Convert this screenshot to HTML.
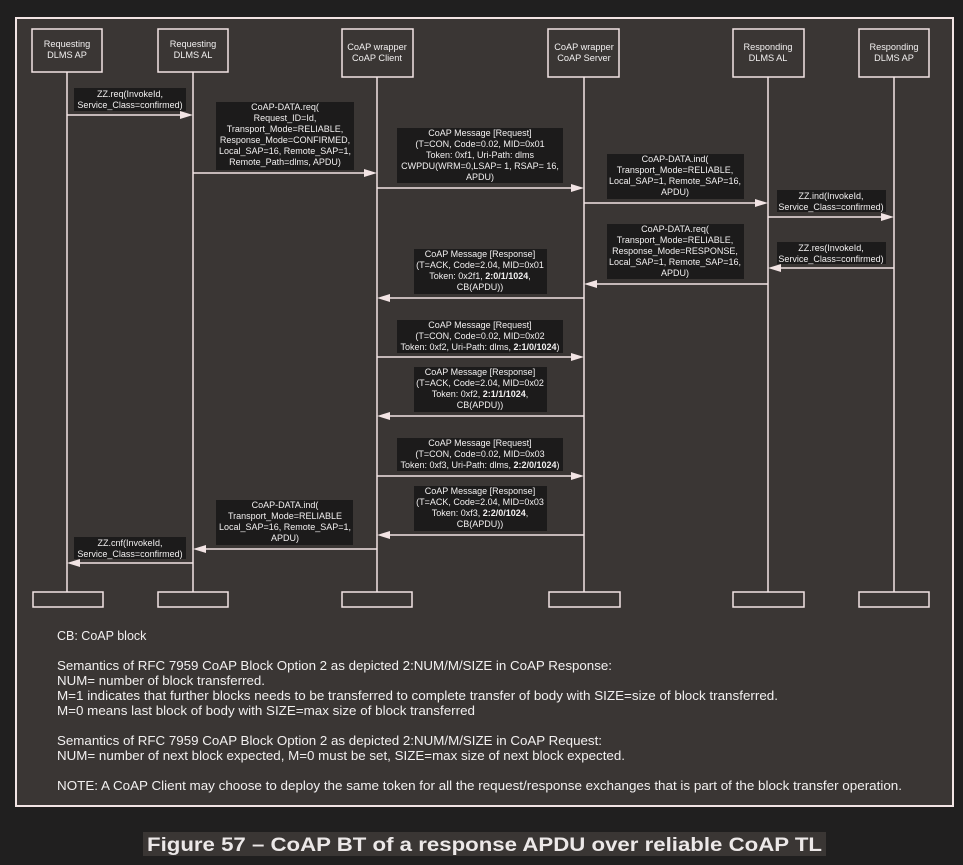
<!DOCTYPE html>
<html><head><meta charset="utf-8"><style>
html,body{margin:0;padding:0;background:#201f1f;}
svg{display:block;}
text{font-family:"Liberation Sans",Arial,sans-serif;}
</style></head><body>
<svg width="963" height="865" viewBox="0 0 963 865" xmlns="http://www.w3.org/2000/svg">
<rect width="963" height="865" fill="#201f1f"/>
<rect x="16" y="18" width="937" height="788" fill="#3a3634" stroke="#f2e4e4" stroke-width="2"/>
<g fill="none" stroke="#f2e4e4" stroke-width="1.5">
<rect x="32" y="29" width="70" height="43"/>
<rect x="158" y="29" width="70" height="43"/>
<rect x="342" y="29" width="71" height="48"/>
<rect x="548" y="29" width="71" height="48"/>
<rect x="733" y="29" width="71" height="48"/>
<rect x="859" y="29" width="70" height="48"/>
<line x1="67" y1="72" x2="67" y2="592"/>
<line x1="193" y1="72" x2="193" y2="592"/>
<line x1="377" y1="77" x2="377" y2="592"/>
<line x1="584" y1="77" x2="584" y2="592"/>
<line x1="768" y1="77" x2="768" y2="592"/>
<line x1="894" y1="77" x2="894" y2="592"/>
<rect x="33" y="592" width="70" height="15"/>
<rect x="158" y="592" width="70" height="15"/>
<rect x="342" y="592" width="70" height="15"/>
<rect x="549" y="592" width="71" height="15"/>
<rect x="733" y="592" width="71" height="15"/>
<rect x="859" y="592" width="70" height="15"/>
</g>
<g fill="#f2f0f0" font-size="9.2" text-anchor="middle">
<text x="67" y="47">Requesting</text><text x="67" y="58">DLMS AP</text>
<text x="193" y="47">Requesting</text><text x="193" y="58">DLMS AL</text>
<text x="377" y="50">CoAP wrapper</text><text x="377" y="61">CoAP Client</text>
<text x="584" y="50">CoAP wrapper</text><text x="584" y="61">CoAP Server</text>
<text x="768" y="50">Responding</text><text x="768" y="61">DLMS AL</text>
<text x="894" y="50">Responding</text><text x="894" y="61">DLMS AP</text>
</g>
<g fill="#1c1b1b">
<rect x="74" y="88" width="112" height="23"/>
<rect x="216" y="102" width="138" height="68"/>
<rect x="397" y="128" width="166" height="55"/>
<rect x="607" y="154" width="137" height="45"/>
<rect x="777" y="190" width="109" height="22"/>
<rect x="607" y="224" width="137" height="55"/>
<rect x="777" y="242" width="109" height="22"/>
<rect x="414" y="249" width="133" height="45"/>
<rect x="397" y="320" width="166" height="33"/>
<rect x="414" y="367" width="133" height="45"/>
<rect x="397" y="438" width="166" height="33"/>
<rect x="414" y="486" width="133" height="45"/>
<rect x="216" y="500" width="137" height="45"/>
<rect x="74" y="537" width="112" height="22"/>
</g>
<g stroke="#f2e4e4" stroke-width="1.5">
<line x1="67" y1="115" x2="182" y2="115"/>
<line x1="193" y1="173" x2="366" y2="173"/>
<line x1="377" y1="188" x2="573" y2="188"/>
<line x1="584" y1="203" x2="757" y2="203"/>
<line x1="768" y1="217" x2="883" y2="217"/>
<line x1="779" y1="268" x2="894" y2="268"/>
<line x1="595" y1="284" x2="768" y2="284"/>
<line x1="388" y1="298" x2="584" y2="298"/>
<line x1="377" y1="357" x2="573" y2="357"/>
<line x1="388" y1="416" x2="584" y2="416"/>
<line x1="377" y1="476" x2="573" y2="476"/>
<line x1="388" y1="535" x2="584" y2="535"/>
<line x1="204" y1="549" x2="377" y2="549"/>
<line x1="78" y1="563" x2="193" y2="563"/>
</g>
<g fill="#f2e4e4">
<polygon points="193,115 180,111 180,119"/>
<polygon points="377,173 364,169 364,177"/>
<polygon points="584,188 571,184 571,192"/>
<polygon points="768,203 755,199 755,207"/>
<polygon points="894,217 881,213 881,221"/>
<polygon points="768,268 781,264 781,272"/>
<polygon points="584,284 597,280 597,288"/>
<polygon points="377,298 390,294 390,302"/>
<polygon points="584,357 571,353 571,361"/>
<polygon points="377,416 390,412 390,420"/>
<polygon points="584,476 571,472 571,480"/>
<polygon points="377,535 390,531 390,539"/>
<polygon points="193,549 206,545 206,553"/>
<polygon points="67,563 80,559 80,567"/>
</g>
<g fill="#f2f0f0" font-size="9" text-anchor="middle">
<text x="130" y="97">ZZ.req(InvokeId,</text><text x="130" y="108">Service_Class=confirmed)</text>
<text x="285" y="110">CoAP-DATA.req(</text><text x="285" y="121">Request_ID=Id,</text><text x="285" y="132">Transport_Mode=RELIABLE,</text><text x="285" y="143">Response_Mode=CONFIRMED,</text><text x="285" y="154">Local_SAP=16, Remote_SAP=1,</text><text x="285" y="165">Remote_Path=dlms, APDU)</text>
<text x="480" y="136">CoAP Message [Request]</text><text x="480" y="147">(T=CON, Code=0.02, MID=0x01</text><text x="480" y="158">Token: 0xf1, Uri-Path: dlms</text><text x="480" y="169">CWPDU(WRM=0,LSAP= 1, RSAP= 16,</text><text x="480" y="180">APDU)</text>
<text x="675" y="162">CoAP-DATA.ind(</text><text x="675" y="173">Transport_Mode=RELIABLE,</text><text x="675" y="184">Local_SAP=1, Remote_SAP=16,</text><text x="675" y="195">APDU)</text>
<text x="831" y="199">ZZ.ind(InvokeId,</text><text x="831" y="210">Service_Class=confirmed)</text>
<text x="675" y="232">CoAP-DATA.req(</text><text x="675" y="243">Transport_Mode=RELIABLE,</text><text x="675" y="254">Response_Mode=RESPONSE,</text><text x="675" y="265">Local_SAP=1, Remote_SAP=16,</text><text x="675" y="276">APDU)</text>
<text x="831" y="251">ZZ.res(InvokeId,</text><text x="831" y="262">Service_Class=confirmed)</text>
<text x="480" y="257">CoAP Message [Response]</text><text x="480" y="268">(T=ACK, Code=2.04, MID=0x01</text><text x="480" y="279">Token: 0x2f1,  <tspan font-weight="bold">2:0/1/1024</tspan>,</text><text x="480" y="290">CB(APDU))</text>
<text x="480" y="328">CoAP Message [Request]</text><text x="480" y="339">(T=CON, Code=0.02, MID=0x02</text><text x="480" y="350">Token: 0xf2, Uri-Path: dlms, <tspan font-weight="bold">2:1/0/1024</tspan>)</text>
<text x="480" y="375">CoAP Message [Response]</text><text x="480" y="386">(T=ACK, Code=2.04, MID=0x02</text><text x="480" y="397">Token: 0xf2,  <tspan font-weight="bold">2:1/1/1024</tspan>,</text><text x="480" y="408">CB(APDU))</text>
<text x="480" y="446">CoAP Message [Request]</text><text x="480" y="457">(T=CON, Code=0.02, MID=0x03</text><text x="480" y="468">Token: 0xf3, Uri-Path: dlms, <tspan font-weight="bold">2:2/0/1024</tspan>)</text>
<text x="480" y="494">CoAP Message [Response]</text><text x="480" y="505">(T=ACK, Code=2.04, MID=0x03</text><text x="480" y="516">Token: 0xf3,  <tspan font-weight="bold">2:2/0/1024</tspan>,</text><text x="480" y="527">CB(APDU))</text>
<text x="285" y="508">CoAP-DATA.ind(</text><text x="285" y="519">Transport_Mode=RELIABLE</text><text x="285" y="530">Local_SAP=16, Remote_SAP=1,</text><text x="285" y="541">APDU)</text>
<text x="130" y="546">ZZ.cnf(InvokeId,</text><text x="130" y="557">Service_Class=confirmed)</text>
</g>
<g fill="#f2f0f0" font-size="12.5">
<text x="57" y="640">CB: CoAP block</text>
<text x="57" y="670" textLength="555" lengthAdjust="spacingAndGlyphs">Semantics of RFC 7959 CoAP Block Option 2 as depicted 2:NUM/M/SIZE in CoAP Response:</text>
<text x="57" y="685" textLength="208" lengthAdjust="spacingAndGlyphs">NUM= number of block transferred.</text>
<text x="57" y="700" textLength="721" lengthAdjust="spacingAndGlyphs">M=1 indicates that further blocks needs to be transferred to complete transfer of body with SIZE=size of block transferred.</text>
<text x="57" y="715" textLength="418" lengthAdjust="spacingAndGlyphs">M=0 means last block of body with SIZE=max size of block transferred</text>
<text x="57" y="745" textLength="545" lengthAdjust="spacingAndGlyphs">Semantics of RFC 7959 CoAP Block Option 2 as depicted 2:NUM/M/SIZE in CoAP Request:</text>
<text x="57" y="760" textLength="568" lengthAdjust="spacingAndGlyphs">NUM= number of next block expected, M=0 must be set, SIZE=max size of next block expected.</text>
<text x="57" y="790" textLength="845" lengthAdjust="spacingAndGlyphs">NOTE: A CoAP Client may choose to deploy the same token for all the request/response exchanges that is part of the block transfer operation.</text>
</g>
<rect x="143" y="832" width="683" height="24" fill="#3a3634"/>
<text x="484.5" y="851" fill="#ece8e8" font-size="19" font-weight="bold" text-anchor="middle" textLength="675" lengthAdjust="spacingAndGlyphs">Figure 57 – CoAP BT of a response APDU over reliable CoAP TL</text>
</svg>
</body></html>
